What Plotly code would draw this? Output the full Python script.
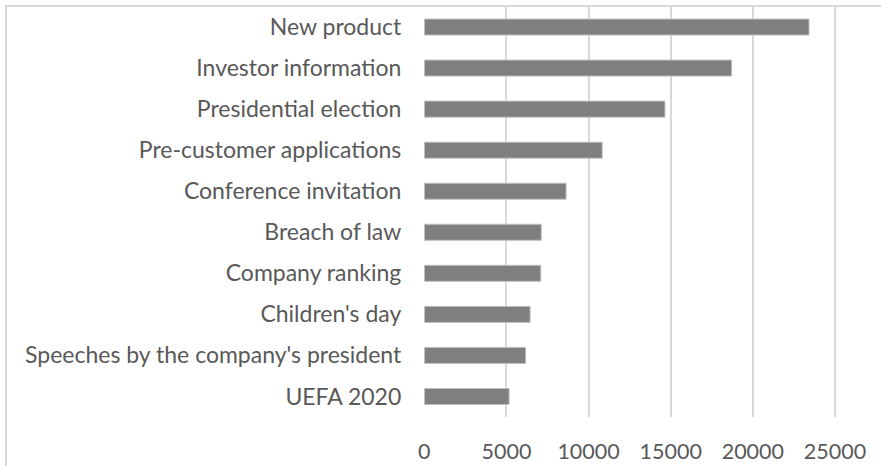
import plotly.graph_objects as go

categories = [
    "New product",
    "Investor information",
    "Presidential election",
    "Pre-customer applications",
    "Conference invitation",
    "Breach of law",
    "Company ranking",
    "Children's day",
    "Speeches by the company's president",
    "UEFA 2020",
]
values = [23420, 18710, 14650, 10830, 8630, 7120, 7090, 6440, 6170, 5160]
x_ticks = [0, 5000, 10000, 15000, 20000, 25000]

W, H = 881, 466
FONT = "Lato"
TXT = "#595959"

fig = go.Figure(
    go.Bar(
        x=values,
        y=categories,
        orientation="h",
        marker=dict(color="#7f7f7f", line=dict(color="#c0c0c0", width=1)),
        hoverinfo="x+y",
    )
)

fig.update_layout(
    template="none",
    width=W,
    height=H,
    margin=dict(l=0, r=0, t=0, b=0),
    paper_bgcolor="white",
    plot_bgcolor="white",
    bargap=0.61,
    showlegend=False,
    font=dict(family=FONT, size=23, color=TXT),
    xaxis=dict(
        domain=[424.3 / W, 1.0],
        range=[0, (W - 424.3) / 0.016427],
        tickvals=x_ticks,
        ticktext=[str(v) for v in x_ticks],
        showgrid=True,
        gridcolor="#d9d9d9",
        gridwidth=1.5,
        zeroline=False,
        showline=False,
        ticks="",
        ticklabelstandoff=19,
        automargin=False,
        tickfont=dict(family=FONT, size=21.5, color=TXT),
    ),
    yaxis=dict(
        domain=[(H - 417) / H, (H - 6.5) / H],
        autorange="reversed",
        showgrid=False,
        zeroline=False,
        showline=False,
        ticks="",
        ticklabelstandoff=22,
        automargin=False,
        tickfont=dict(family=FONT, size=23, color=TXT),
    ),
    shapes=[
        dict(
            type="rect",
            xref="paper",
            yref="paper",
            x0=6 / W,
            x1=1.2,
            y0=-0.2,
            y1=1 - 6 / H,
            line=dict(color="#d9d9d9", width=2),
            fillcolor="rgba(0,0,0,0)",
            layer="below",
        )
    ],
)

fig.write_html(
    "out.html",
    config={"displayModeBar": False},
    post_script="document.body.style.margin='0';document.body.style.padding='0';document.body.style.overflow='hidden';",
)
